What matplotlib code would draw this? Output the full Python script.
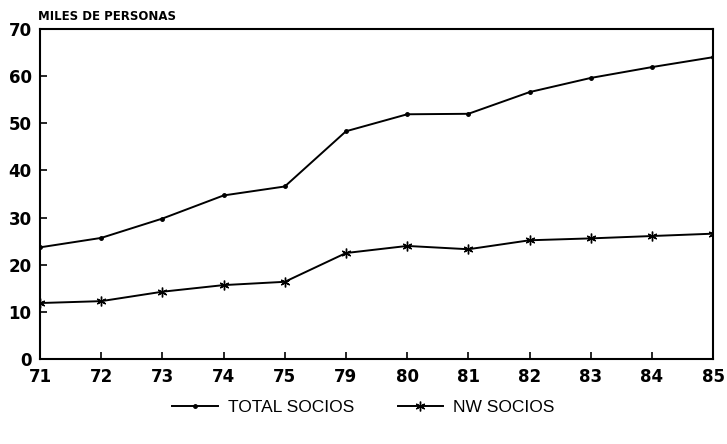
import matplotlib
matplotlib.use("Agg")
import matplotlib.pyplot as plt

# ---- data ----
years = ["71", "72", "73", "74", "75", "79", "80", "81", "82", "83", "84", "85"]
total_socios = [23.7, 25.7, 29.8, 34.7, 36.6, 48.3, 51.9, 52.0, 56.6, 59.6, 61.9, 64.0]
nw_socios = [11.9, 12.3, 14.3, 15.7, 16.4, 22.5, 24.0, 23.3, 25.2, 25.6, 26.1, 26.6]

plt.rcParams["font.family"] = ["Liberation Sans", "DejaVu Sans"]

fig = plt.figure(figsize=(7.27, 4.44), dpi=100)
ax = fig.add_axes([0.055, 0.191, 0.926, 0.744])

x = list(range(len(years)))
ax.plot(x, total_socios, color="black", lw=1.4, marker="o", ms=2.5,
        label="TOTAL SOCIOS")
ax.plot(x, nw_socios, color="black", lw=1.4, marker=(6, 2, 0), ms=7, mew=1.0,
        label="NW SOCIOS")

ax.set_xlim(0, len(years) - 1)
ax.set_ylim(0, 70)
ax.set_xticks(x)
ax.set_xticklabels(years)
ax.set_yticks(range(0, 71, 10))
ax.tick_params(direction="in", length=5, width=1.2, pad=6)
for lab in ax.get_xticklabels() + ax.get_yticklabels():
    lab.set_fontweight("bold")
    lab.set_fontfamily("DejaVu Sans")
    lab.set_fontsize(12)
for s in ax.spines.values():
    s.set_linewidth(1.5)

fig.text(0.052, 0.955, "MILES DE PERSONAS", fontsize=8.5, fontweight="bold",
         family="DejaVu Sans", ha="left", va="baseline")

fig.legend(loc="center", bbox_to_anchor=(0.5, 0.082), ncol=2, frameon=False,
           fontsize=12.5, handlelength=2.6, columnspacing=2.5, handletextpad=0.6)

fig.savefig("out.png", dpi=100)
